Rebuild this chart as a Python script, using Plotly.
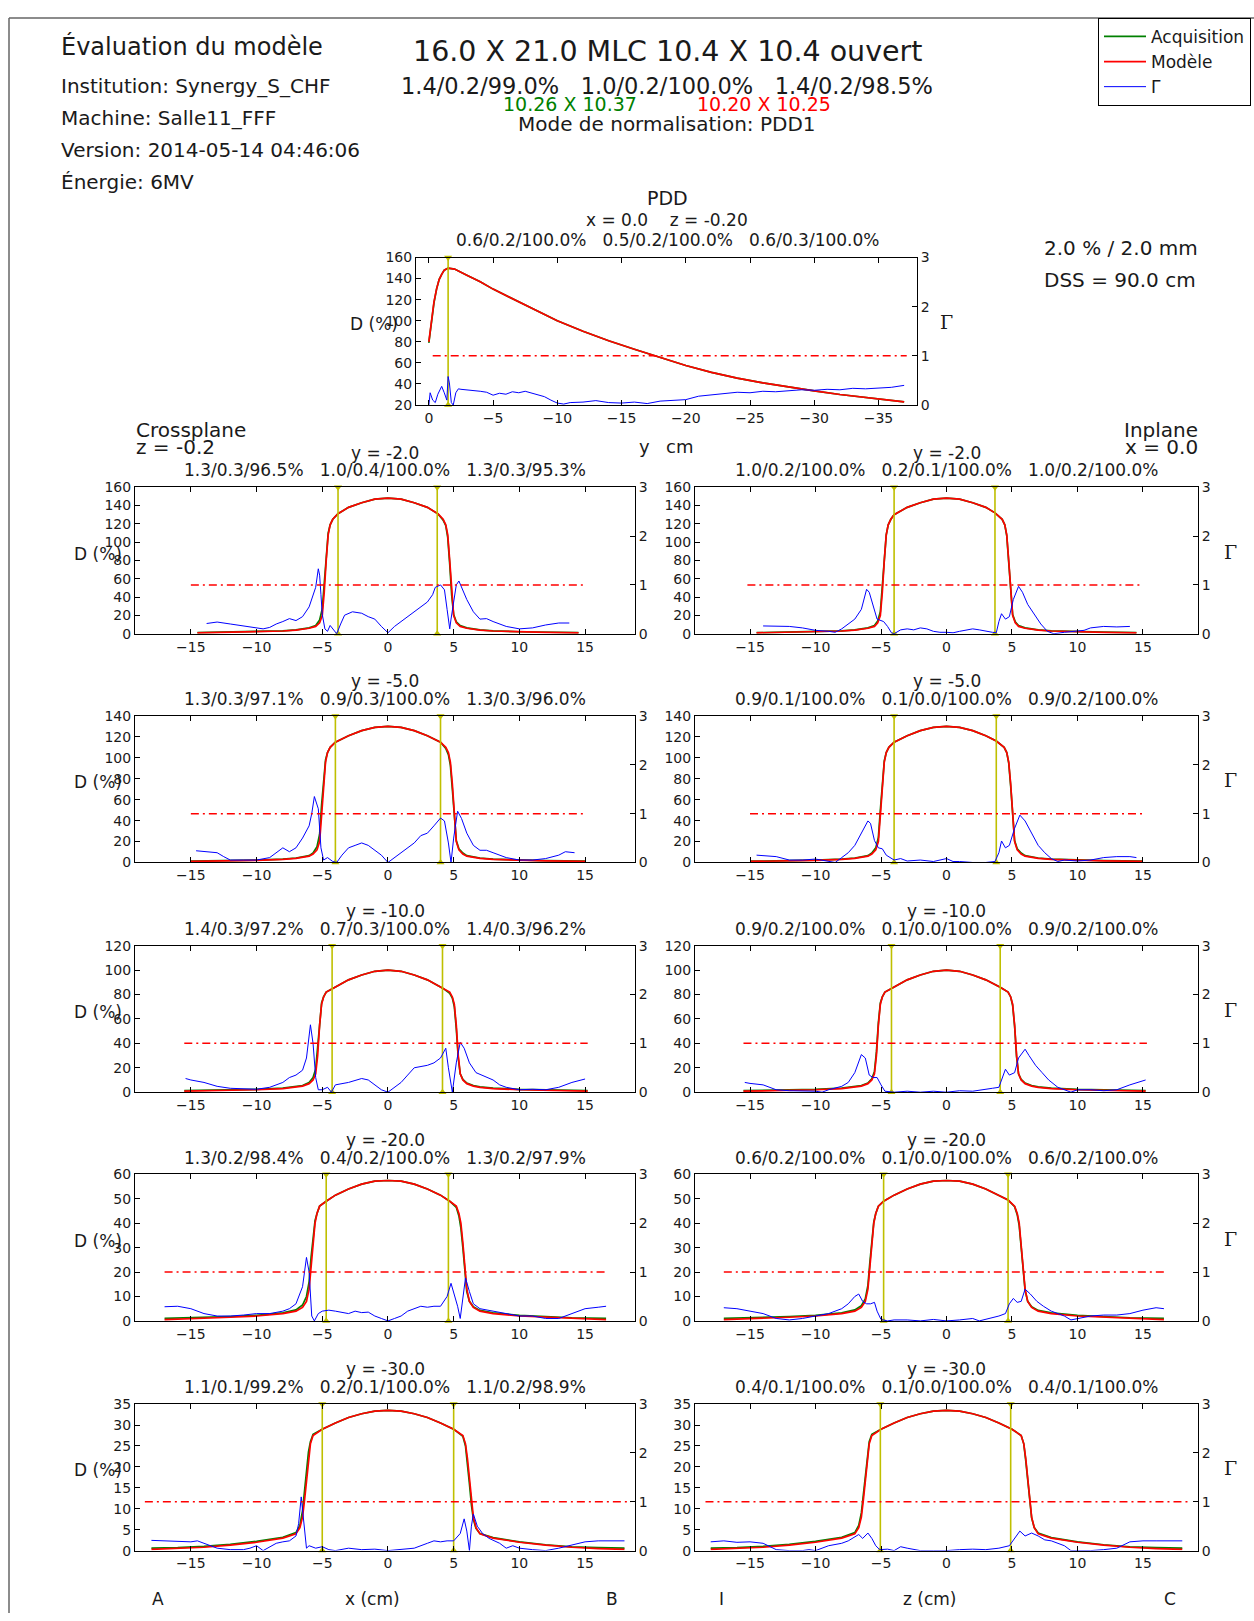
import plotly.graph_objects as go

W, H = 1254, 1621
FONT = "DejaVu Sans"
TXT = "#1a1a1a"
GREEN = "#008000"
RED = "#ff0000"
BLUE = "#0000ff"
YEL = "#bfbf00"

# ---------------- header texts ----------------
title_left = "Évaluation du modèle"
info_lines = ["Institution: Synergy_S_CHF", "Machine: Salle11_FFF",
              "Version: 2014-05-14 04:46:06", "Énergie: 6MV"]
main_title = "16.0 X 21.0 MLC 10.4 X 10.4 ouvert"
main_stats = ["1.4/0.2/99.0%", "1.0/0.2/100.0%", "1.4/0.2/98.5%"]
size_acq = "10.26 X 10.37"
size_model = "10.20 X 10.25"
norm_mode = "Mode de normalisation: PDD1"
criteria = ["2.0 % / 2.0 mm", "DSS = 90.0 cm"]
legend_names = ["Acquisition", "Modèle", "Γ"]

# ---------------- PDD ----------------
pdd_x = [0, -0.2, -0.4, -0.6, -0.8, -1.0, -1.2, -1.5, -2, -3, -4, -5, -6, -8, -10, -12, -14, -16,
         -18, -20, -22, -24, -26, -28, -30, -32, -34, -36, -37]
pdd_model = [80, 100, 118, 130, 139, 144, 148, 150, 149, 143, 137, 130, 124, 112, 100, 90, 81, 73,
             65, 57.5, 51, 45.5, 41, 37, 33.5, 30, 27, 24.5, 23]
pdd_acq = [79, 99, 117, 130, 139, 144, 148, 150, 149, 143, 137, 130, 124, 112, 100, 90, 81, 73,
           65, 57.5, 51, 45.5, 41, 37, 33.5, 30, 27, 24.5, 23]
pdd_gx = [0, -0.1, -0.3, -0.5, -0.7, -1.0, -1.2, -1.4, -1.5, -1.6, -1.75, -1.9, -2.1, -2.3, -2.5, -3,
          -3.5, -4, -4.5, -5, -5.5, -6, -6.5, -7, -7.5, -8, -8.5, -9, -9.5, -10, -10.5, -11, -12, -13,
          -14, -15, -16, -17, -18, -19, -20, -21, -22, -23, -24, -25, -26, -27, -28, -29, -30, -31,
          -32, -33, -34, -35, -36, -37]
pdd_g = [0.0, 0.25, 0.1, 0.05, 0.22, 0.38, 0.25, 0.1, 0.58, 0.45, 0.05, 0.0, 0.25, 0.33, 0.32, 0.31,
         0.3, 0.28, 0.26, 0.2, 0.24, 0.22, 0.27, 0.25, 0.28, 0.24, 0.2, 0.17, 0.1, 0.04, 0.02, 0.05,
         0.06, 0.09, 0.05, 0.04, 0.06, 0.03, 0.08, 0.1, 0.11, 0.18, 0.21, 0.24, 0.26, 0.25, 0.28, 0.27,
         0.29, 0.31, 0.3, 0.32, 0.31, 0.34, 0.33, 0.35, 0.36, 0.4]
pdd_edges = [-1.5]
pdd_thr = [-0.3, -37.2]
pdd_title = "PDD"
pdd_pos = "x = 0.0\u00a0\u00a0\u00a0\u00a0z = -0.20"
pdd_stats = ["0.6/0.2/100.0%", "0.5/0.2/100.0%", "0.6/0.3/100.0%"]
pdd_xticks = [0, -5, -10, -15, -20, -25, -30, -35]

# ---------------- Crossplane profiles ----------------
cp1_x = [-14.5, -12, -10, -8, -7, -6, -5.5, -5.2, -5.0, -4.85, -4.7, -4.55, -4.4, -4.2, -3.8, -3, -2, -1, 0,
         1, 2, 3, 3.8, 4.2, 4.4, 4.55, 4.7, 4.85, 5.0, 5.2, 5.5, 6, 7, 8, 10, 12, 14.5]
cp1_model = [1, 1.5, 2, 3, 4, 6, 8, 12, 20, 45, 80, 108, 119, 125, 131, 138, 143, 147, 148,
             147, 143, 138, 131, 125, 119, 108, 80, 45, 20, 12, 8, 6, 4, 3, 2, 1.5, 1]
cp1_acq = [1.2, 1.7, 2.2, 3.2, 4.3, 6.5, 9, 15, 27, 55, 85, 110, 119, 125, 131, 138, 143, 147, 148,
           147, 143, 138, 131, 124, 118, 105, 76, 42, 21, 13, 9, 6.5, 4.3, 3.2, 2.2, 1.7, 1.2]
cp1_gx = [-13.8, -13, -12, -11, -10, -9.5, -9, -8.5, -8, -7.5, -7, -6.5, -6, -5.7, -5.5, -5.3, -5.2, -5.1,
          -5.0, -4.8, -4.6, -4.4, -4.2, -3.9, -3.6, -3.3, -2.7, -2, -1.5, -1, -0.5, 0, 0.5, 1, 1.5, 2,
          2.5, 3, 3.4, 3.6, 4.0, 4.3, 4.5, 4.7, 4.8, 5.0, 5.2, 5.4, 5.6, 6, 6.5, 7, 7.5, 8, 9, 10, 11,
          12, 13, 13.8]
cp1_g = [0.21, 0.24, 0.2, 0.16, 0.11, 0.1, 0.13, 0.2, 0.25, 0.31, 0.27, 0.35, 0.55, 0.8, 0.95, 1.33, 1.2,
         0.8, 0.4, 0.1, 0.05, 0.17, 0.1, 0.0, 0.2, 0.38, 0.45, 0.42, 0.35, 0.3, 0.15, 0.02, 0.15, 0.25,
         0.35, 0.45, 0.55, 0.65, 0.8, 0.95, 1.0, 0.9, 0.5, 0.1, 0.3, 0.7, 1.0, 1.08, 0.95, 0.7, 0.45,
         0.3, 0.31, 0.25, 0.15, 0.1, 0.12, 0.18, 0.22, 0.22]

cp2_x = [-15, -12, -10, -8, -7, -6, -5.7, -5.4, -5.2, -5.05, -4.9, -4.75, -4.6, -4.4, -4.0, -3, -2, -1, 0,
         1, 2, 3, 4.0, 4.4, 4.6, 4.75, 4.9, 5.05, 5.2, 5.4, 5.7, 6, 7, 8, 10, 12, 15]
cp2_model = [1, 1.5, 2, 3, 4, 6, 8, 12, 20, 45, 75, 96, 105, 110, 115, 121, 126, 129, 130,
             129, 126, 121, 115, 110, 105, 96, 75, 45, 20, 12, 8, 6, 4, 3, 2, 1.5, 1]
cp2_acq = [1.2, 1.7, 2.2, 3.2, 4.3, 6.5, 9, 15, 27, 55, 80, 98, 105, 110, 115, 121, 126, 129, 130,
           129, 126, 121, 115, 109, 103, 93, 70, 42, 21, 13, 9, 6.5, 4.3, 3.2, 2.2, 1.7, 1.2]
cp2_gx = [-14.6, -14, -13, -12.5, -12, -11, -10, -9, -8.5, -8, -7.5, -7, -6.5, -6, -5.8, -5.6, -5.3, -5.1,
          -4.9, -4.6, -4.2, -3.9, -3.5, -3, -2.5, -2, -1.5, -1, -0.5, 0, 0.5, 1, 1.5, 2, 2.5, 3, 3.5, 4,
          4.3, 4.6, 4.8, 5.0, 5.3, 5.6, 6, 6.5, 7, 7.5, 8, 8.5, 9, 10, 11, 12, 13, 13.5, 14.2]
cp2_g = [0.24, 0.22, 0.2, 0.12, 0.05, 0.05, 0.05, 0.1, 0.2, 0.3, 0.22, 0.3, 0.5, 0.75, 1.0, 1.35, 1.1, 0.3,
         0.05, 0.1, 0.02, 0.0, 0.15, 0.3, 0.35, 0.4, 0.35, 0.25, 0.15, 0.0, 0.1, 0.2, 0.3, 0.4, 0.55, 0.6,
         0.75, 0.91, 0.85, 0.4, 0.0, 0.5, 1.05, 0.9, 0.6, 0.35, 0.25, 0.25, 0.2, 0.15, 0.1, 0.05, 0.05,
         0.08, 0.15, 0.22, 0.2]

cp3_x = [-15.5, -12, -10, -8, -7, -6.5, -6, -5.7, -5.5, -5.35, -5.2, -5.05, -4.9, -4.7, -4.2, -3, -2, -1, 0,
         1, 2, 3, 4.2, 4.7, 4.9, 5.05, 5.2, 5.35, 5.5, 5.7, 6, 6.5, 7, 8, 10, 12, 15.2]
cp3_model = [0.8, 1.5, 2, 3, 4, 5, 7, 10, 15, 30, 55, 72, 78, 82, 85, 92, 96, 99, 100,
             99, 96, 92, 85, 82, 78, 72, 55, 30, 15, 10, 7, 5, 4, 3, 2, 1.5, 0.8]
cp3_acq = [1.2, 1.8, 2.3, 3.3, 4.4, 5.5, 8, 12, 19, 36, 58, 73, 78, 82, 85, 92, 96, 99, 100,
           99, 96, 92, 85, 81, 77, 70, 52, 28, 15, 10.5, 7.5, 5.5, 4.4, 3.3, 2.3, 1.8, 1.2]
cp3_gx = [-15.4, -15, -14, -13, -12, -11, -10, -9, -8, -7.5, -7, -6.5, -6.2, -5.9, -5.7, -5.5, -5.3, -5.0,
          -4.6, -4.3, -4, -3, -2, -1.5, -1, -0.5, 0, 0.5, 1, 1.5, 2, 3, 3.5, 4, 4.4, 4.6, 4.9, 5.2, 5.5,
          5.8, 6.2, 6.7, 7.5, 8, 8.5, 9, 10, 11, 12, 13, 14, 15]
cp3_g = [0.28, 0.25, 0.2, 0.12, 0.08, 0.07, 0.06, 0.1, 0.2, 0.3, 0.35, 0.45, 0.7, 1.38, 1.0, 0.3, 0.05,
         0.05, 0.1, 0.0, 0.15, 0.2, 0.28, 0.25, 0.15, 0.05, 0.0, 0.1, 0.2, 0.35, 0.5, 0.55, 0.6, 0.7, 0.9,
         0.5, 0.0, 0.6, 1.02, 0.9, 0.6, 0.4, 0.3, 0.25, 0.15, 0.1, 0.05, 0.06, 0.05, 0.1, 0.2, 0.27]

cp4_x = [-17, -14, -12, -10, -8, -7, -6.5, -6.2, -6.0, -5.85, -5.7, -5.55, -5.4, -5.2, -4.7, -4, -3, -2, -1,
         0, 1, 2, 3, 4, 4.7, 5.2, 5.4, 5.55, 5.7, 5.85, 6.0, 6.2, 6.5, 7, 8, 10, 12, 14, 16.6]
cp4_model = [0.5, 1, 1.5, 2, 3, 4, 5.5, 8, 13, 22, 32, 40, 44, 47, 49, 51.5, 54, 56, 57.2,
             57.5, 57.2, 56, 54, 51.5, 49, 47, 44, 40, 32, 22, 13, 8, 5.5, 4, 3, 2, 1.5, 1, 0.5]
cp4_acq = [1.0, 1.3, 1.8, 2.3, 3.3, 4.5, 6.5, 10, 16, 26, 35, 41, 44, 47, 49, 51.5, 54, 56, 57.2,
           57.5, 57.2, 56, 54, 51.5, 49, 46.5, 43, 38, 30, 20, 12, 8, 5.8, 4.3, 3.3, 2.3, 1.8, 1.3, 1.0]
cp4_gx = [-17, -16, -15, -14, -13, -12, -11, -10, -9, -8, -7.5, -7, -6.5, -6.2, -6.0, -5.8, -5.6, -5.3, -5,
          -4.5, -4, -3, -2.5, -2, -1.5, -1, -0.5, 0, 0.5, 1, 1.5, 2, 2.5, 3, 3.5, 4, 4.5, 4.8, 5.0, 5.3,
          5.5, 5.7, 5.9, 6.2, 6.5, 7, 8, 9, 10, 11, 12, 13, 14, 15, 16, 16.6]
cp4_g = [0.29, 0.3, 0.25, 0.15, 0.1, 0.1, 0.12, 0.15, 0.15, 0.2, 0.25, 0.35, 0.7, 1.3, 1.0, 0.1, 0.0, 0.15,
         0.2, 0.22, 0.2, 0.15, 0.2, 0.17, 0.18, 0.1, 0.05, 0.0, 0.05, 0.1, 0.2, 0.25, 0.3, 0.28, 0.3, 0.3,
         0.5, 0.77, 0.6, 0.3, 0.05, 0.5, 0.88, 0.6, 0.35, 0.25, 0.2, 0.15, 0.1, 0.1, 0.05, 0.05, 0.15,
         0.25, 0.28, 0.3]

cp5_x = [-18, -16, -14, -12, -10, -8, -7, -6.7, -6.5, -6.35, -6.2, -6.05, -5.9, -5.7, -5, -4, -3, -2, -1, 0,
         1, 2, 3, 4, 5, 5.7, 5.9, 6.05, 6.2, 6.35, 6.5, 6.7, 7, 8, 10, 12, 14, 16, 18]
cp5_model = [0.3, 0.5, 0.8, 1.3, 2, 3, 4, 5.5, 8, 12, 17, 22, 25.5, 27.5, 29, 30.5, 31.8, 32.7, 33.3,
             33.5, 33.3, 32.7, 31.8, 30.5, 29, 27.5, 25.5, 22, 17, 12, 8, 5.5, 4, 3, 2, 1.3, 0.8, 0.5, 0.3]
cp5_acq = [0.6, 0.7, 1.0, 1.5, 2.2, 3.2, 4.3, 6, 9.5, 14, 19, 23.5, 26, 27.8, 29, 30.5, 31.8, 32.7, 33.3,
           33.5, 33.3, 32.7, 31.8, 30.5, 29, 27.3, 25, 21, 16, 11, 7.5, 5.3, 4.1, 3.1, 2.1, 1.4, 0.9, 0.7, 0.6]
cp5_gx = [-18, -17, -16, -15, -14.5, -14, -13, -12, -11, -10.5, -10, -9.5, -9, -8.5, -8, -7.5, -7, -6.8, -6.6,
          -6.4, -6.2, -6, -5.5, -5, -4.5, -4, -3, -2, -1, 0, 1, 2, 3, 3.5, 4, 4.5, 5, 5.5, 5.8, 6.0, 6.2,
          6.35, 6.5, 6.8, 7.2, 7.7, 8.5, 9, 9.5, 10, 11, 12, 13, 14, 15, 16, 17, 18]
cp5_g = [0.21, 0.2, 0.2, 0.18, 0.2, 0.15, 0.05, 0.02, 0.02, 0.05, 0.1, 0.0, 0.08, 0.15, 0.18, 0.2, 0.3, 0.55,
         1.1, 0.6, 0.05, 0.1, 0.05, 0.08, 0.02, 0.0, 0.05, 0.02, 0.03, 0.0, 0.02, 0.05, 0.15, 0.2, 0.18,
         0.2, 0.2, 0.35, 0.65, 0.4, 0.0, 0.5, 0.75, 0.5, 0.35, 0.25, 0.15, 0.05, 0.1, 0.05, 0.02, 0.0,
         0.05, 0.12, 0.18, 0.2, 0.2, 0.2]

# ---------------- Inplane profiles ----------------
ip1_x = [-14.5, -12, -10, -8, -7, -6, -5.5, -5.25, -5.05, -4.9, -4.75, -4.6, -4.45, -4.25, -4.0, -3, -2, -1,
         0, 1, 2, 3, 3.7, 4.25, 4.45, 4.6, 4.75, 4.9, 5.05, 5.25, 5.5, 6, 7, 8, 10, 12, 14.5]
ip1_model = [1, 1.5, 2, 3, 4, 6, 8, 12, 20, 45, 80, 108, 119, 125, 130, 138, 143, 147, 148,
             147, 143, 138, 132, 125, 119, 108, 80, 45, 20, 12, 8, 6, 4, 3, 2, 1.5, 1]
ip1_acq = [1.2, 1.7, 2.2, 3.2, 4.3, 6.5, 9, 14, 24, 50, 82, 108, 119, 125, 130, 138, 143, 147, 148,
           147, 143, 138, 132, 125, 119, 107, 78, 44, 21, 13, 9, 6.5, 4.3, 3.2, 2.2, 1.7, 1.2]
ip1_gx = [-14, -13, -12, -11, -10, -9, -8.5, -8, -7.5, -7, -6.5, -6.1, -5.9, -5.6, -5.3, -5.1, -4.8, -4.5,
          -4.2, -4, -3.5, -3, -2.5, -2, -1.5, -1, -0.5, 0, 0.5, 1, 1.5, 2, 2.5, 3, 3.5, 3.8, 4.0, 4.2, 4.5,
          4.8, 5.1, 5.5, 5.8, 6.2, 6.7, 7.2, 7.7, 8.2, 9, 10, 10.5, 11, 12, 13, 14]
ip1_g = [0.16, 0.15, 0.15, 0.12, 0.07, 0.05, 0.03, 0.1, 0.2, 0.3, 0.5, 0.91, 0.85, 0.55, 0.3, 0.28, 0.25,
         0.15, 0.02, 0.0, 0.08, 0.1, 0.08, 0.12, 0.1, 0.05, 0.03, 0.03, 0.02, 0.05, 0.08, 0.1, 0.08, 0.05,
         0.03, 0.02, 0.25, 0.41, 0.3, 0.35, 0.7, 0.97, 0.85, 0.6, 0.4, 0.2, 0.05, 0.0, 0.03, 0.05, 0.07,
         0.12, 0.15, 0.14, 0.15]

ip2_x = [-15, -12, -10, -8, -7, -6, -5.7, -5.4, -5.2, -5.05, -4.9, -4.75, -4.6, -4.4, -4.0, -3, -2, -1, 0,
         1, 2, 3, 3.8, 4.4, 4.6, 4.75, 4.9, 5.05, 5.2, 5.4, 5.7, 6, 7, 8, 10, 12, 15]
ip2_model = [1, 1.5, 2, 3, 4, 6, 8, 12, 20, 45, 75, 96, 105, 110, 115, 121, 126, 129, 130,
             129, 126, 121, 116, 110, 105, 96, 75, 45, 20, 12, 8, 6, 4, 3, 2, 1.5, 1]
ip2_acq = [1.2, 1.7, 2.2, 3.2, 4.3, 6.5, 9, 14, 24, 50, 78, 97, 105, 110, 115, 121, 126, 129, 130,
           129, 126, 121, 116, 110, 105, 95, 73, 44, 21, 13, 9, 6.5, 4.3, 3.2, 2.2, 1.7, 1.2]
ip2_gx = [-14.5, -14, -13, -12, -11, -10, -9, -8.5, -8, -7.5, -7, -6.5, -6.0, -5.8, -5.5, -5.2, -4.9, -4.6,
          -4.3, -4, -3.5, -3, -2, -1, 0, 0.5, 1, 2, 3, 3.7, 4.0, 4.2, 4.5, 4.8, 5.2, 5.6, 6, 6.5, 7, 7.5,
          8, 8.5, 9, 10, 11, 12, 13, 14, 14.5]
ip2_g = [0.15, 0.14, 0.12, 0.05, 0.05, 0.07, 0.03, 0.0, 0.1, 0.2, 0.35, 0.6, 0.85, 0.8, 0.45, 0.3, 0.28,
         0.15, 0.1, 0.05, 0.08, 0.03, 0.05, 0.02, 0.08, 0.02, 0.02, 0.0, 0.0, 0.02, 0.2, 0.44, 0.3, 0.35,
         0.7, 0.97, 0.85, 0.6, 0.35, 0.2, 0.08, 0.02, 0.05, 0.03, 0.05, 0.1, 0.12, 0.12, 0.1]

ip3_x = [-15.5, -12, -10, -8, -7, -6.5, -6, -5.7, -5.5, -5.35, -5.2, -5.05, -4.9, -4.7, -4.2, -3, -2, -1, 0,
         1, 2, 3, 4.1, 4.7, 4.9, 5.05, 5.2, 5.35, 5.5, 5.7, 6, 6.5, 7, 8, 10, 12, 15.2]
ip3_model = [0.8, 1.5, 2, 3, 4, 5, 7, 10, 15, 30, 55, 72, 78, 82, 85, 92, 96, 99, 100,
             99, 96, 92, 86, 82, 78, 72, 55, 30, 15, 10, 7, 5, 4, 3, 2, 1.5, 0.8]
ip3_acq = [1.2, 1.8, 2.3, 3.3, 4.4, 5.5, 7.5, 11, 17, 33, 57, 73, 78, 82, 85, 92, 96, 99, 100,
           99, 96, 92, 86, 82, 78, 71, 54, 29, 15, 10.5, 7.5, 5.5, 4.4, 3.3, 2.3, 1.8, 1.2]
ip3_gx = [-15.4, -15, -14, -13, -12, -11, -10, -9.5, -9, -8, -7.5, -7, -6.5, -6.2, -5.9, -5.6, -5.3, -5.0,
          -4.7, -4, -3, -2, -1, 0, 1, 2, 3, 3.5, 4, 4.3, 4.5, 4.8, 5.2, 5.5, 6.0, 6.3, 6.8, 7.3, 7.8, 8.5,
          9, 9.5, 10, 11, 12, 13, 14, 15.2]
ip3_g = [0.2, 0.18, 0.15, 0.05, 0.03, 0.03, 0.02, 0.0, 0.05, 0.12, 0.2, 0.4, 0.77, 0.7, 0.35, 0.3, 0.3,
         0.15, 0.02, 0.0, 0.02, 0.0, 0.02, 0.0, 0.03, 0.02, 0.05, 0.08, 0.1, 0.3, 0.47, 0.35, 0.4, 0.7,
         0.88, 0.75, 0.55, 0.4, 0.25, 0.1, 0.05, 0.0, 0.05, 0.05, 0.03, 0.05, 0.15, 0.25]

ip4_x = [-17, -14, -12, -10, -8, -7, -6.5, -6.2, -6.0, -5.85, -5.7, -5.55, -5.4, -5.2, -4.8, -4, -3, -2, -1,
         0, 1, 2, 3, 4, 4.7, 5.2, 5.4, 5.55, 5.7, 5.85, 6.0, 6.2, 6.5, 7, 8, 10, 12, 14, 16.6]
ip4_model = [0.5, 1, 1.5, 2, 3, 4, 5.5, 8, 13, 22, 32, 40, 44, 47, 49, 51.5, 54, 56, 57.2,
             57.5, 57.2, 56, 54, 51.5, 49.5, 47, 44, 40, 32, 22, 13, 8, 5.5, 4, 3, 2, 1.5, 1, 0.5]
ip4_acq = [1.0, 1.3, 1.8, 2.3, 3.3, 4.5, 6.2, 9, 14.5, 24, 33, 40.5, 44, 47, 49, 51.5, 54, 56, 57.2,
           57.5, 57.2, 56, 54, 51.5, 49.5, 46.8, 43.5, 39, 31, 21, 12.5, 8, 5.8, 4.3, 3.3, 2.3, 1.8, 1.3, 1.0]
ip4_gx = [-17, -16, -15, -14, -13, -12, -11, -10, -9, -8, -7.5, -7.0, -6.7, -6.4, -6.1, -5.8, -5.5, -5.3,
          -5.0, -4.5, -4, -3, -2, -1, 0, 1, 2, 2.5, 3, 4, 4.5, 4.8, 5.1, 5.4, 5.7, 6.0, 6.4, 6.9, 7.4, 8,
          8.5, 9, 9.5, 10, 11, 12, 13, 14, 15, 16, 16.6]
ip4_g = [0.27, 0.25, 0.2, 0.15, 0.05, 0.02, 0.05, 0.1, 0.15, 0.25, 0.35, 0.5, 0.55, 0.4, 0.35, 0.35, 0.38,
         0.2, 0.03, 0.0, 0.02, 0.02, 0.0, 0.03, 0.0, 0.02, 0.05, 0.0, 0.03, 0.1, 0.15, 0.35, 0.46, 0.38,
         0.4, 0.65, 0.55, 0.4, 0.3, 0.2, 0.15, 0.1, 0.02, 0.05, 0.1, 0.12, 0.12, 0.15, 0.22, 0.27, 0.25]

ip5_x = [-18, -16, -14, -12, -10, -8, -7, -6.7, -6.5, -6.35, -6.2, -6.05, -5.9, -5.7, -5, -4, -3, -2, -1, 0,
         1, 2, 3, 4, 5, 5.7, 5.9, 6.05, 6.2, 6.35, 6.5, 6.7, 7, 8, 10, 12, 14, 16, 18]
ip5_model = [0.3, 0.5, 0.8, 1.3, 2, 3, 4, 5.5, 8, 12, 17, 22, 25.5, 27.5, 29, 30.5, 31.8, 32.7, 33.3,
             33.5, 33.3, 32.7, 31.8, 30.5, 29, 27.5, 25.5, 22, 17, 12, 8, 5.5, 4, 3, 2, 1.3, 0.8, 0.5, 0.3]
ip5_acq = [0.6, 0.7, 1.0, 1.5, 2.2, 3.2, 4.3, 6, 9, 13.5, 18.5, 23, 26, 27.8, 29, 30.5, 31.8, 32.7, 33.3,
           33.5, 33.3, 32.7, 31.8, 30.5, 29, 27.5, 25.5, 21.5, 16.5, 11.5, 7.8, 5.5, 4.2, 3.1, 2.1, 1.4, 0.9,
           0.7, 0.6]
ip5_gx = [-18, -17, -16, -15, -14, -13, -12, -11, -10.5, -10, -9, -8, -7.5, -7, -6.7, -6.4, -6.0, -5.7, -5.4,
          -5.1, -4.5, -4, -3.5, -3, -2, -1, 0, 1, 2, 3, 4, 4.8, 5.2, 5.6, 6.0, 6.5, 7.0, 7.5, 8, 9, 9.5, 10,
          11, 12, 13, 14, 15, 16, 17, 18]
ip5_g = [0.18, 0.2, 0.17, 0.18, 0.15, 0.02, 0.0, 0.0, 0.02, 0.0, 0.1, 0.15, 0.2, 0.28, 0.33, 0.25, 0.36,
         0.25, 0.1, 0.02, 0.03, 0.0, 0.08, 0.05, 0.0, 0.0, 0.0, 0.02, 0.03, 0.02, 0.05, 0.1, 0.25, 0.4, 0.3,
         0.36, 0.3, 0.22, 0.2, 0.1, 0.0, 0.0, 0.0, 0.02, 0.05, 0.18, 0.2, 0.2, 0.2, 0.2]

# field-edge markers (yellow lines) and gamma=1 reference extents
cp_edges = [[-3.8, 3.75], [-4.0, 4.0], [-4.25, 4.15], [-4.7, 4.6], [-5.0, 5.0]]
ip_edges = [[-4.0, 3.7], [-4.0, 3.8], [-4.2, 4.1], [-4.8, 4.7], [-5.05, 4.9]]
cp_thr = [[-15, 15], [-15, 15], [-15.5, 15.2], [-17, 16.7], [-18.5, 18.5]]
ip_thr = [[-15.2, 15], [-15, 15], [-15.5, 15.3], [-17, 16.7], [-18.4, 18.5]]

depth_labels = ["y = -2.0", "y = -5.0", "y = -10.0", "y = -20.0", "y = -30.0"]
cp_stats = [["1.3/0.3/96.5%", "1.0/0.4/100.0%", "1.3/0.3/95.3%"],
            ["1.3/0.3/97.1%", "0.9/0.3/100.0%", "1.3/0.3/96.0%"],
            ["1.4/0.3/97.2%", "0.7/0.3/100.0%", "1.4/0.3/96.2%"],
            ["1.3/0.2/98.4%", "0.4/0.2/100.0%", "1.3/0.2/97.9%"],
            ["1.1/0.1/99.2%", "0.2/0.1/100.0%", "1.1/0.2/98.9%"]]
ip_stats = [["1.0/0.2/100.0%", "0.2/0.1/100.0%", "1.0/0.2/100.0%"],
            ["0.9/0.1/100.0%", "0.1/0.0/100.0%", "0.9/0.2/100.0%"],
            ["0.9/0.2/100.0%", "0.1/0.0/100.0%", "0.9/0.2/100.0%"],
            ["0.6/0.2/100.0%", "0.1/0.0/100.0%", "0.6/0.2/100.0%"],
            ["0.4/0.1/100.0%", "0.1/0.0/100.0%", "0.4/0.1/100.0%"]]
dose_max = [160, 140, 120, 60, 35]
dose_step = [20, 20, 20, 10, 5]
prof_xticks = [-15, -10, -5, 0, 5, 10, 15]
gamma_ticks = [0, 1, 2, 3]

# ---------------- layout geometry (pixels) ----------------
CP_X = (135, 635)
IP_X = (695, 1198)
CP_RANGE = [-19.25, 18.8]
IP_RANGE = [-19.2, 19.2]
ROW_TOP = [484, 715, 947, 1178, 1410]
ROW_H = 148

SEP = "\u00a0\u00a0\u00a0"

cp_data = [(cp1_x, cp1_model, cp1_acq, cp1_gx, cp1_g), (cp2_x, cp2_model, cp2_acq, cp2_gx, cp2_g),
           (cp3_x, cp3_model, cp3_acq, cp3_gx, cp3_g), (cp4_x, cp4_model, cp4_acq, cp4_gx, cp4_g),
           (cp5_x, cp5_model, cp5_acq, cp5_gx, cp5_g)]
ip_data = [(ip1_x, ip1_model, ip1_acq, ip1_gx, ip1_g), (ip2_x, ip2_model, ip2_acq, ip2_gx, ip2_g),
           (ip3_x, ip3_model, ip3_acq, ip3_gx, ip3_g), (ip4_x, ip4_model, ip4_acq, ip4_gx, ip4_g),
           (ip5_x, ip5_model, ip5_acq, ip5_gx, ip5_g)]

panels = [dict(x=pdd_x, model=pdd_model, acq=pdd_acq, gx=pdd_gx, g=pdd_g, edges=pdd_edges, thr=pdd_thr,
               xdom=(416, 917), ydom=(252, 401), xrange=[1, -38], xticks=pdd_xticks,
               yrange=[20, 160], ystep=20)]
for r in range(5):
    for dat, edges, thr, xd, xrg in ((cp_data, cp_edges, cp_thr, CP_X, CP_RANGE),
                                     (ip_data, ip_edges, ip_thr, IP_X, IP_RANGE)):
        x, m, a, gx, g = dat[r]
        panels.append(dict(x=x, model=m, acq=a, gx=gx, g=g, edges=edges[r], thr=thr[r],
                           xdom=xd, ydom=(ROW_TOP[r], ROW_TOP[r] + ROW_H), xrange=xrg,
                           xticks=prof_xticks, yrange=[0, dose_max[r]], ystep=dose_step[r]))


def ref(prefix, n):
    return prefix if n == 1 else f"{prefix}{n}"


def key(prefix, n):
    return f"{prefix}axis" if n == 1 else f"{prefix}axis{n}"


fig = go.Figure()
layout = {}
tickfont = dict(size=14, family=FONT, color=TXT)

for k, p in enumerate(panels):
    xn, yl, yr = k + 1, 2 * k + 1, 2 * k + 2
    xr, ylr, yrr = ref("x", xn), ref("y", yl), ref("y", yr)
    leg = (k == 0)
    fig.add_trace(go.Scatter(x=p["x"], y=p["acq"], mode="lines", line=dict(color=GREEN, width=1.7),
                             name=legend_names[0], showlegend=leg, xaxis=xr, yaxis=ylr))
    fig.add_trace(go.Scatter(x=p["x"], y=p["model"], mode="lines", line=dict(color=RED, width=1.7),
                             name=legend_names[1], showlegend=leg, xaxis=xr, yaxis=ylr))
    for e in p["edges"]:
        fig.add_trace(go.Scatter(x=[e, e], y=p["yrange"], mode="lines+markers",
                                 line=dict(color=YEL, width=1.6),
                                 marker=dict(color=YEL, size=7, symbol=["triangle-up", "triangle-down"]),
                                 cliponaxis=False, showlegend=False, xaxis=xr, yaxis=ylr))
    fig.add_trace(go.Scatter(x=p["gx"], y=p["g"], mode="lines", line=dict(color=BLUE, width=1),
                             name=legend_names[2], showlegend=leg, xaxis=xr, yaxis=yrr))
    fig.add_trace(go.Scatter(x=p["thr"], y=[1, 1], mode="lines",
                             line=dict(color=RED, width=1.5, dash="8px,4px,2px,4px"),
                             showlegend=False, xaxis=xr, yaxis=yrr))

    x0, x1 = p["xdom"]
    ytop, ybot = p["ydom"]
    layout[key("x", xn)] = dict(domain=[x0 / W, x1 / W], anchor=ylr, range=p["xrange"],
                                tickmode="array", tickvals=p["xticks"], ticks="inside", ticklen=5,
                                tickcolor="black", showline=True, linecolor="black", linewidth=1,
                                mirror="ticks", showgrid=False, zeroline=False, tickfont=tickfont)
    ymin, ymax = p["yrange"]
    layout[key("y", yl)] = dict(domain=[1 - ybot / H, 1 - ytop / H], anchor=xr, range=[ymin, ymax],
                                tickmode="array", tickvals=list(range(ymin, ymax + 1, p["ystep"])),
                                ticks="inside", ticklen=5, tickcolor="black", showline=True,
                                linecolor="black", linewidth=1, showgrid=False, zeroline=False,
                                tickfont=tickfont)
    layout[key("y", yr)] = dict(overlaying=ylr, anchor=xr, side="right", range=[0, 3],
                                tickmode="array", tickvals=gamma_ticks, ticks="inside", ticklen=5,
                                tickcolor="black", showline=True, linecolor="black", linewidth=1,
                                showgrid=False, zeroline=False, tickfont=tickfont)

annotations = []


def ann(text, x, y, size, anchor="center", color=TXT, family=FONT):
    annotations.append(dict(text=text, x=x / W, y=1 - y / H, xref="paper", yref="paper",
                            xanchor=anchor, yanchor="middle", showarrow=False,
                            font=dict(size=size, family=family, color=color)))


# header
ann(title_left, 59, 39, 24, "left")
for i, t in enumerate(info_lines):
    ann(t, 59, 79 + i * 32.4, 20, "left")
ann(main_title, 667, 44, 28.5)
ann(SEP.join(main_stats), 667, 79, 22.5)
ann(size_acq, 570, 97, 19, color=GREEN)
ann(size_model, 764, 97, 19, color=RED)
ann(norm_mode, 667, 117, 20)
ann(criteria[0], 1042, 242, 20, "left")
ann(criteria[1], 1042, 275, 20, "left")

# PDD texts
ann(pdd_title, 667, 192, 19)
ann(pdd_pos, 667, 214, 17)
ann(SEP.join(pdd_stats), 667, 234, 17)
ann("D (%)", 374, 319, 17)
ann("Γ", 946, 317, 19, family="DejaVu Serif")
ann("y", 644, 443, 18)
ann("cm", 679, 443, 18)

# section labels
ann("Crossplane", 134, 426, 20, "left")
ann("z = -0.2", 134, 443, 20, "left")
ann("Inplane", 1200, 426, 20, "right")
ann("x = 0.0", 1200, 443, 20, "right")

for r in range(5):
    top = ROW_TOP[r]
    mid = top + ROW_H / 2
    for (xa, xb), stats in ((CP_X, cp_stats[r]), (IP_X, ip_stats[r])):
        cx = (xa + xb) / 2
        ann(depth_labels[r], cx, top - 35, 17)
        ann(SEP.join(stats), cx, top - 17, 17)
    ann("D (%)", 98, mid - 7, 17)
    ann("Γ", 1230, mid - 9, 19, family="DejaVu Serif")

# bottom labels
ann("A", 158, 1607, 17)
ann("x (cm)", 372, 1607, 17)
ann("B", 612, 1607, 17)
ann("I", 721, 1607, 17)
ann("z (cm)", 930, 1607, 17)
ann("C", 1170, 1607, 17)

shapes = [dict(type="line", xref="paper", yref="paper", x0=9 / W, x1=1, y0=1 - 10 / H, y1=1 - 10 / H,
               line=dict(color="#666666", width=1.5)),
          dict(type="line", xref="paper", yref="paper", x0=9 / W, x1=9 / W, y0=0, y1=1 - 10 / H,
               line=dict(color="#666666", width=1.5))]

fig.update_layout(
    width=W, height=H, margin=dict(l=0, r=0, t=0, b=0),
    paper_bgcolor="white", plot_bgcolor="white",
    font=dict(family=FONT, color=TXT),
    showlegend=True,
    legend=dict(x=1098 / W, y=1 - 10 / H, xanchor="left", yanchor="top", bgcolor="white",
                bordercolor="black", borderwidth=1, font=dict(size=17, family=FONT, color=TXT),
                itemwidth=42, tracegroupgap=0),
    annotations=annotations, shapes=shapes,
    **layout,
)

fig.write_html("out.html")
